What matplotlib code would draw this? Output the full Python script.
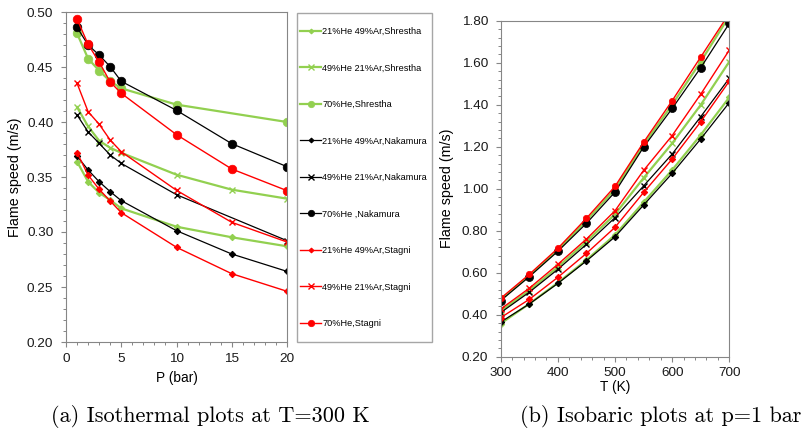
import matplotlib
matplotlib.use('Agg')
import matplotlib.pyplot as plt
from matplotlib.ticker import MultipleLocator, FormatStrFormatter
from matplotlib.patches import Rectangle

plt.rcParams['font.family'] = ['Liberation Sans', 'DejaVu Sans']

# ---------------- data: (a) isothermal, T = 300 K ----------------
P_full = [1, 2, 3, 4, 5, 10, 15, 20]
P_no15 = [1, 2, 3, 4, 5, 10, 20]

shr21_p = [0.364, 0.3457, 0.3357, 0.329, 0.3215, 0.3048, 0.2952, 0.2870]
shr49_p = [0.4135, 0.396, 0.383, 0.3765, 0.372, 0.3521, 0.3385, 0.3303]
shr70_p = [0.4806, 0.4576, 0.4467, 0.437, 0.4306, 0.4158, 0.400]          # P_no15
nak21_p = [0.369, 0.3564, 0.3457, 0.3367, 0.3285, 0.3012, 0.2800, 0.2642]
nak49_p = [0.4064, 0.391, 0.3806, 0.370, 0.3624, 0.3339, 0.2921]          # P_no15
nak70_p = [0.4861, 0.470, 0.4609, 0.4503, 0.437, 0.4106, 0.3803, 0.3594]
sta21_p = [0.3721, 0.3518, 0.3388, 0.3282, 0.3176, 0.2861, 0.2621, 0.2461]
sta49_p = [0.4352, 0.4094, 0.398, 0.3836, 0.373, 0.3379, 0.3088, 0.2909]
sta70_p = [0.4936, 0.4706, 0.4545, 0.4364, 0.4261, 0.3885, 0.3573, 0.3376]

# ---------------- data: (b) isobaric, p = 1 bar ----------------
T = [300, 350, 400, 450, 500, 550, 600, 650, 700]
shr21_t = [0.358, 0.452, 0.552, 0.660, 0.780, 0.935, 1.089, 1.256, 1.435]
shr49_t = [0.418, 0.515, 0.627, 0.748, 0.878, 1.051, 1.216, 1.399, 1.605]
shr70_t = [0.472, 0.586, 0.708, 0.848, 0.998, 1.210, 1.400, 1.605, 1.822]
nak21_t = [0.365, 0.451, 0.549, 0.656, 0.771, 0.922, 1.073, 1.237, 1.410]
nak49_t = [0.410, 0.507, 0.616, 0.735, 0.862, 1.013, 1.165, 1.343, 1.526]
nak70_t = [0.467, 0.581, 0.702, 0.835, 0.984, 1.198, 1.382, 1.576, 1.787]
sta21_t = [0.386, 0.473, 0.578, 0.692, 0.816, 0.982, 1.141, 1.319, 1.512]
sta49_t = [0.427, 0.526, 0.640, 0.760, 0.895, 1.087, 1.253, 1.450, 1.660]
sta70_t = [0.478, 0.592, 0.716, 0.859, 1.011, 1.221, 1.419, 1.627, 1.835]

labels = ["21%He 49%Ar,Shrestha", "49%He 21%Ar,Shrestha", "70%He,Shrestha",
          "21%He 49%Ar,Nakamura", "49%He 21%Ar,Nakamura", "70%He ,Nakamura",
          "21%He 49%Ar,Stagni", "49%He 21%Ar,Stagni", "70%He,Stagni"]

GREEN = '#92D050'
RED = '#FF0000'
BLACK = '#000000'
AXC = '#868686'

W, H = 807, 437
fig = plt.figure(figsize=(W / 100, H / 100), dpi=100)
ax1 = fig.add_axes([66 / W, 1 - 342 / H, 221 / W, 330 / H])
ax2 = fig.add_axes([500.7 / W, 1 - 356.7 / H, 228.6 / W, 336 / H])

def style(color, kind, big):
    lw = {GREEN: 1.6, RED: 1.0, BLACK: 0.9}[color]
    d = dict(color=color, lw=lw, mfc=color, mec=color)
    if kind == 'D':
        d.update(marker='D', ms=3.2, mew=0.8)
    elif kind == 'x':
        d.update(marker='x', ms=5.0, mew=1.0)
    else:
        d.update(marker='o', ms=big, mew=0.5)
    return d

series_a = [(P_full, shr21_p, GREEN, 'D'), (P_full, shr49_p, GREEN, 'x'), (P_no15, shr70_p, GREEN, 'o'),
            (P_full, nak21_p, BLACK, 'D'), (P_no15, nak49_p, BLACK, 'x'), (P_full, nak70_p, BLACK, 'o'),
            (P_full, sta21_p, RED, 'D'), (P_full, sta49_p, RED, 'x'), (P_full, sta70_p, RED, 'o')]
series_b = [(shr21_t, GREEN, 'D'), (shr49_t, GREEN, 'x'), (shr70_t, GREEN, 'o'),
            (nak21_t, BLACK, 'D'), (nak49_t, BLACK, 'x'), (nak70_t, BLACK, 'o'),
            (sta21_t, RED, 'D'), (sta49_t, RED, 'x'), (sta70_t, RED, 'o')]

handles = []
for (x, y, c, k), lab in zip(series_a, labels):
    ln, = ax1.plot(x, y, label=lab, **style(c, k, 6.2))
    handles.append(ln)
for (y, c, k), lab in zip(series_b, labels):
    big = 5.8 if c == BLACK else 4.6
    ax2.plot(T, y, label=lab, **style(c, k, big))

for ax in (ax1, ax2):
    for s in ax.spines.values():
        s.set_color(AXC)
        s.set_linewidth(0.8)
    ax.tick_params(which='major', direction='out', length=3.6, width=0.8, color=AXC,
                   labelsize=9.7, labelcolor='#1a1a1a')
    ax.tick_params(which='minor', direction='out', length=2.2, width=0.7, color=AXC)
    ax.tick_params(axis='y', which='major', pad=5.5)
    ax.tick_params(axis='x', which='major', pad=4)
    ax.tick_params(top=False, right=False, which='both')

ax1.set_xlim(0, 20)
ax1.set_ylim(0.20, 0.50)
ax1.xaxis.set_major_locator(MultipleLocator(5))
ax1.xaxis.set_minor_locator(MultipleLocator(1))
ax1.yaxis.set_major_locator(MultipleLocator(0.05))
ax1.yaxis.set_minor_locator(MultipleLocator(0.01))
ax1.yaxis.set_major_formatter(FormatStrFormatter('%.2f'))

ax2.set_xlim(300, 700)
ax2.set_ylim(0.20, 1.80)
ax2.xaxis.set_major_locator(MultipleLocator(100))
ax2.xaxis.set_minor_locator(MultipleLocator(20))
ax2.yaxis.set_major_locator(MultipleLocator(0.2))
ax2.yaxis.set_minor_locator(MultipleLocator(0.04))
ax2.yaxis.set_major_formatter(FormatStrFormatter('%.2f'))

ax1.set_xlabel('P (bar)', fontsize=9.9)
ax1.set_ylabel('Flame speed (m/s)', fontsize=10.3)
ax2.set_xlabel('T (K)', fontsize=9.9)
ax2.set_ylabel('Flame speed (m/s)', fontsize=10.3)
ax1.xaxis.set_label_coords(0.5, (342 - 378) / 330)
ax2.xaxis.set_label_coords(0.5, (356.7 - 387.5) / 336)
ax1.yaxis.set_label_coords((15.5 - 66) / 221, 0.5)
ax2.yaxis.set_label_coords((447 - 500.7) / 228.6, 0.5)
for ax in (ax1, ax2):
    ax.xaxis.label.set(va='center', ha='center')
    ax.yaxis.label.set(va='center', ha='center', rotation_mode='default')

# legend
fig.add_artist(Rectangle((297 / W, 1 - 342 / H), (432 - 297) / W, (342 - 13) / H,
                         transform=fig.transFigure, fill=False, ec='#A6A6A6', lw=1.0))
leg = fig.legend(handles=handles, loc='center left', bbox_to_anchor=(300 / W, 1 - 177.5 / H),
                 frameon=False, fontsize=6.6, borderpad=0, borderaxespad=0,
                 handlelength=2.3, handletextpad=0.15, labelspacing=3.0, markerscale=0.75)

fig.text(210 / W, 1 - 416 / H, '(a) Isothermal plots at T=300 K', family='cmr10',
         fontsize=16, ha='center', va='center')
fig.text(661 / W, 1 - 416 / H, '(b) Isobaric plots at p=1 bar', family='cmr10',
         fontsize=16, ha='center', va='center')

fig.savefig('out.png', dpi=100)
